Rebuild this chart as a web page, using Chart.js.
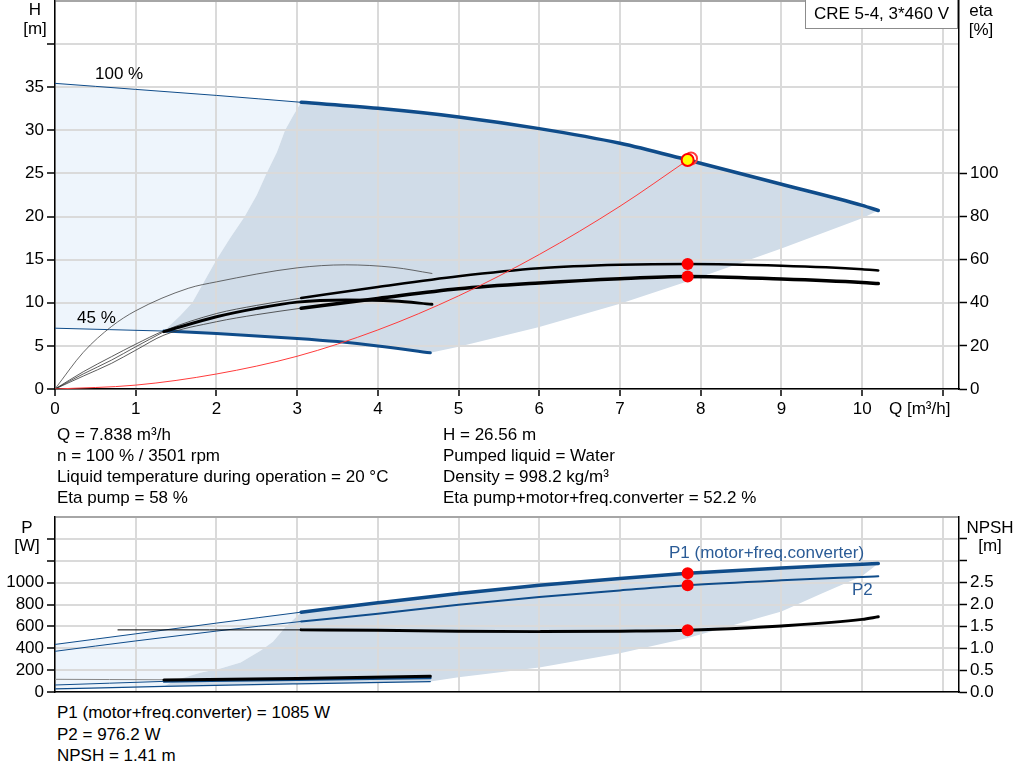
<!DOCTYPE html>
<html>
<head>
<meta charset="utf-8">
<script src="https://cdn.jsdelivr.net/npm/chart.js@4.4.1/dist/chart.umd.min.js"></script>
<style>
  html, body { margin: 0; padding: 0; background: #fff; }
  body { width: 1024px; height: 781px; position: relative; overflow: hidden;
         font-family: "Liberation Sans", Arial, sans-serif; font-size: 17px; color: #000; }
  canvas { position: absolute; left: 0; }
  #headChart { top: 0; }
  #powerChart { top: 500px; }
  .t { position: absolute; white-space: nowrap; line-height: 21px; }
  .c { text-align: center; }
  .blue { color: #2a5b96; }
  #model { position: absolute; left: 805px; top: -1px; width: 151px; height: 28px; border: 1px solid #8c8c8c;
           background: #fff; text-align: center; line-height: 28px; white-space: nowrap; }
</style>
</head>
<body>
<canvas id="headChart" width="1024" height="425"></canvas>
<canvas id="powerChart" width="1024" height="200"></canvas>

<div class="t c" style="left:20px;top:-1px;width:30px">H</div>
<div class="t c" style="left:18px;top:18px;width:34px">[m]</div>
<div class="t c" style="left:964px;top:0px;width:34px">eta</div>
<div class="t c" style="left:964px;top:19px;width:34px">[%]</div>
<div id="model">CRE 5-4, 3*460 V</div>
<div class="t" style="left:95px;top:63px">100 %</div>
<div class="t" style="left:77px;top:307px">45 %</div>
<div class="t" style="left:889px;top:398px">Q [m³/h]</div>

<div class="t" style="left:57px;top:424px">Q = 7.838 m³/h<br>n = 100 % / 3501 rpm<br>Liquid temperature during operation = 20 °C<br>Eta pump = 58 %</div>
<div class="t" style="left:443px;top:424px">H = 26.56 m<br>Pumped liquid = Water<br>Density = 998.2 kg/m³<br>Eta pump+motor+freq.converter = 52.2 %</div>

<div class="t c" style="left:12px;top:517px;width:30px">P</div>
<div class="t c" style="left:10px;top:535px;width:34px">[W]</div>
<div class="t c" style="left:965px;top:517px;width:50px">NPSH</div>
<div class="t c" style="left:973px;top:535px;width:34px">[m]</div>
<div class="t blue" style="left:669px;top:542px">P1 (motor+freq.converter)</div>
<div class="t blue" style="left:852px;top:579px">P2</div>

<div class="t" style="left:57px;top:702px;line-height:21.7px">P1 (motor+freq.converter) = 1085 W<br>P2 = 976.2 W<br>NPSH = 1.41 m</div>

<script>
// ---- axis ticks ----
const xTicks = [0, 1, 2, 3, 4, 5, 6, 7, 8, 9, 10, 11];
const headTicks = [0, 5, 10, 15, 20, 25, 30, 35, 40, 45];
const etaTicks = [0, 20, 40, 60, 80, 100];
const powerTicks = [0, 200, 400, 600, 800, 1000, 1200, 1400, 1600];
const npshTicks = [0, 0.5, 1, 1.5, 2, 2.5, 3, 3.5];

// ---- head curves (m) ----
const qH100Thin = [0, 1, 2, 3.05];
const h100Thin = [35.45, 34.75, 34.05, 33.25];
const qH100 = [3.05, 4, 5, 6, 7, 7.84, 9, 10, 10.2];
const h100 = [33.25, 32.55, 31.55, 30.2, 28.5, 26.56, 23.75, 21.3, 20.7];
const qH45Thin = [0, 1.35];
const h45Thin = [7.05, 6.72];
const qH45 = [1.35, 2, 3, 3.5, 4, 4.65];
const h45 = [6.72, 6.45, 5.87, 5.5, 5.0, 4.2];

// operating range edges (head chart)
const qRangeLeft = [1.35, 1.55, 1.7, 1.85, 2.0, 2.17, 2.35, 2.5, 2.62, 2.75, 2.85, 2.95, 3.05];
const hRangeLeft = [6.72, 8.5, 10, 12.5, 15, 17.5, 20, 22.5, 25, 27.5, 30, 31.7, 33.25];
const qRangeLow = [4.65, 5, 6, 7, 8, 9, 10, 10.2];
const hRangeLow = [4.2, 4.9, 7.2, 9.9, 13.0, 16.3, 19.8, 20.7];

// system curve (m)
const qSystem = [0, 1, 2, 3, 4, 5, 6, 7, 7.84];
const hSystem = [0, 0.45, 1.74, 3.8, 6.85, 10.8, 15.6, 21.2, 26.56];

// ---- efficiency curves (%) ----
const qEtaThin = [0, 0.35, 0.7, 1.0, 1.35, 2, 2.5, 3.05];
const etaPumpThin = [0, 8, 15, 20.8, 27, 35, 38.8, 42.2];
const etaTotalThin = [0, 6, 11.9, 18, 25, 31.2, 34.5, 37.5];
const qEta = [3.05, 4, 5, 6, 7, 7.84, 9, 10, 10.2];
const etaPump = [42.2, 47.3, 52.3, 56, 57.6, 58, 57.2, 55.6, 55.0];
const etaTotal = [37.5, 42, 46.5, 49.2, 51.2, 52.2, 51.0, 49.4, 48.9];
const qEtaPump45 = [0, 0.35, 0.7, 1.0, 1.65, 2, 3, 3.6, 4.2, 4.67];
const etaPump45 = [0, 17, 29, 36.3, 46.7, 49.7, 56.2, 57.6, 56.4, 53.6];
const qEtaTotal45Thin = [0, 0.35, 0.7, 1.0, 1.35];
const etaTotal45Thin = [0, 7, 13.4, 19.6, 26.6];
const qEtaTotal45 = [1.35, 2, 2.5, 3, 3.6, 4.2, 4.67];
const etaTotal45 = [26.6, 33.5, 37.4, 40.3, 41.3, 40.8, 39.3];

// ---- power curves (W) ----
const qP1Thin = [0, 1, 2, 3.05];
const p1Thin = [435, 532, 630, 730];
const qP1 = [3.05, 4, 5, 6, 7, 7.84, 9, 10, 10.2];
const p1 = [730, 815, 900, 975, 1038, 1085, 1134, 1168, 1175];
const qP2Thin = [0, 1, 2, 3.05];
const p2Thin = [372, 467, 557, 645];
const qP2 = [3.05, 4, 5, 6, 7, 7.84, 9, 10, 10.2];
const p2 = [645, 716, 798, 869, 929, 976.2, 1021, 1052, 1058];
const qP1s45Thin = [0, 1.35];
const p1s45Thin = [64, 97];
const qP1s45 = [1.35, 3, 4.65];
const p1s45 = [97, 112, 128];
const qP2s45 = [0, 1.35, 3, 4.65];
const p2s45 = [28, 52, 75, 95];

// operating range edges (power chart)
const qPRangeLeft = [1.35, 1.5, 1.8, 2.05, 2.3, 2.55, 2.7, 2.85, 3.05];
const pPRangeLeft = [52, 110, 175, 215, 270, 380, 460, 590, 730];
const qPRangeLow = [4.65, 5, 6, 7, 7.84, 9, 9.5, 10, 10.2];
const pPRangeLow = [95, 135, 223, 355, 493, 737, 900, 1060, 1175];

// ---- NPSH (m) ----
const qNpshThin = [0.78, 3.05];
const npshThin = [1.42, 1.42];
const qNpsh = [3.05, 4, 5, 6, 7, 7.84, 9, 10, 10.2];
const npsh = [1.42, 1.41, 1.39, 1.38, 1.39, 1.41, 1.51, 1.66, 1.72];
const qNpsh45Thin = [0, 1.35];
const npsh45Thin = [0.29, 0.28];
const qNpsh45 = [1.35, 3, 4.65];
const npsh45 = [0.275, 0.31, 0.36];

// ---- duty point ----
const qDuty = 7.838;
const hDuty = 26.56;
const qRequested = 7.88;
const hRequested = 26.73;
const etaPumpDuty = 58;
const etaTotalDuty = 52.2;
const p1Duty = 1085;
const p2Duty = 976.2;
const npshDuty = 1.41;

const FONT = '"Liberation Sans", Arial, sans-serif';
const BLUE = '#0f4c8a';
const GRID = '#dadada';
const LIGHT = '#eef5fc';
const DARK = '#d0dce8';

const pts = (qs, vs) => qs.map((q, i) => ({ x: q, y: vs[i] }));
const rev = (a) => a.slice().reverse();

function curve(data, color, width, axis, order) {
    return { data, borderColor: color, borderWidth: width, yAxisID: axis, pointRadius: 0,
        fill: false, cubicInterpolationMode: 'monotone', order, borderCapStyle: 'round' };
}
function area(data, color, axis) {
    return { data, borderWidth: 0, borderColor: 'rgba(0,0,0,0)', backgroundColor: color,
        fill: 'shape', pointRadius: 0, tension: 0, yAxisID: axis, order: 20 };
}
function dot(q, v, axis, color, stroke, order) {
    return { data: [{ x: q, y: v }], yAxisID: axis, showLine: false, pointRadius: 6,
        pointBackgroundColor: color, pointBorderColor: stroke || color, pointBorderWidth: stroke ? 2 : 0, order: order || 1 };
}
function fixTicks(values) {
    return (s) => { s.ticks = values.map((v) => ({ value: v })); };
}
const tickFont = { family: FONT, size: 17 };

function xScale(height, showLabels) {
    return {
        type: 'linear', min: 0, max: 11.2,
        afterBuildTicks: fixTicks(xTicks),
        afterFit: (s) => { s.height = height; s.paddingLeft = 0; s.paddingRight = 0; },
        ticks: { display: showLabels, font: tickFont, color: '#000', padding: 3, maxRotation: 0, autoSkip: false,
            callback: (v) => (v === 11 ? '' : String(v)) },
        grid: { color: GRID, lineWidth: 2, drawTicks: showLabels, tickColor: '#000', tickLength: 7, tickWidth: 1.5 },
        border: { color: '#000', width: 1.5 }
    };
}
function yScale(pos, max, values, width, label, topValue) {
    const left = pos === 'left';
    return {
        type: 'linear', position: pos, min: 0, max,
        afterBuildTicks: fixTicks(values),
        afterFit: (s) => { s.width = width; s.paddingTop = 0; s.paddingBottom = 0; },
        ticks: { font: tickFont, color: '#000', padding: 3, autoSkip: false, callback: label },
        grid: left ? {
            color: (c) => (c.tick && c.tick.value === topValue ? '#a6a6a6' : GRID), lineWidth: 2,
            tickColor: (c) => (c.tick && c.tick.value === topValue ? 'rgba(0,0,0,0)' : '#000'),
            tickLength: 8, tickWidth: 1.5
        } : { drawOnChartArea: false, tickColor: '#000', tickLength: 8, tickWidth: 1.5 },
        border: { color: '#000', width: 1.5 }
    };
}
const baseOptions = {
    responsive: false, animation: false, events: [],
    plugins: { legend: { display: false }, tooltip: { enabled: false }, filler: { drawTime: 'beforeDraw' } }
};

// ---------- head / efficiency chart ----------
const headDark = [
    ...pts(qRangeLeft, hRangeLeft),
    ...pts(qH100, h100).slice(1),
    ...rev(pts(qRangeLow, hRangeLow)).slice(1),
    ...rev(pts(qH45, h45)).slice(1)
];
const headLight = [
    ...pts(qH100Thin, h100Thin),
    ...rev(pts(qRangeLeft, hRangeLeft)).slice(1),
    ...rev(pts(qH45Thin, h45Thin)).slice(1)
];

new Chart(document.getElementById('headChart'), {
    type: 'line',
    data: {
        datasets: [
            dot(qDuty, hDuty, 'y', '#ffff00', '#ff0000'),
            dot(qRequested, hRequested, 'y', 'rgba(255,255,255,0)', '#ff3b3b', 2),
            dot(qDuty, etaPumpDuty, 'y2', '#ff0000'),
            dot(qDuty, etaTotalDuty, 'y2', '#ff0000'),
            curve(pts(qSystem, hSystem), '#ff3b3b', 1, 'y', 4),
            curve(pts(qEta, etaTotal), '#000', 3.5, 'y2', 6),
            curve(pts(qEta, etaPump), '#000', 2.5, 'y2', 6),
            curve(pts(qEtaTotal45, etaTotal45), '#000', 3, 'y2', 6),
            curve(pts(qEtaThin, etaPumpThin), '#333', 0.8, 'y2', 7),
            curve(pts(qEtaThin, etaTotalThin), '#333', 0.8, 'y2', 7),
            curve(pts(qEtaTotal45Thin, etaTotal45Thin), '#333', 0.8, 'y2', 7),
            curve(pts(qEtaPump45, etaPump45), '#444', 0.8, 'y2', 7),
            curve(pts(qH100, h100), BLUE, 3.5, 'y', 8),
            curve(pts(qH45, h45), BLUE, 3, 'y', 8),
            curve(pts(qH100Thin, h100Thin), BLUE, 1, 'y', 9),
            curve(pts(qH45Thin, h45Thin), BLUE, 1, 'y', 9),
            area(headDark, DARK, 'y'),
            area(headLight, LIGHT, 'y')
        ]
    },
    options: {
        ...baseOptions,
        layout: { autoPadding: false, padding: { top: 1, left: 0, right: 0, bottom: 0 } },
        scales: {
            x: xScale(36, true),
            y: yScale('left', 45, headTicks, 55, (v) => (v <= 35 ? String(v) : ''), 45),
            y2: yScale('right', 180, etaTicks, 65, (v) => String(v), null)
        }
    }
});

// ---------- power / NPSH chart ----------
const p2s45Low = pts(qP2s45, p2s45).filter((p) => p.x >= 1.35);
const p2s45High = pts(qP2s45, p2s45).filter((p) => p.x <= 1.35);
const powerDark = [
    ...pts(qPRangeLeft, pPRangeLeft),
    ...pts(qP1, p1).slice(1),
    ...rev(pts(qPRangeLow, pPRangeLow)).slice(1),
    ...rev(p2s45Low).slice(1)
];
const powerLight = [
    ...pts(qP1Thin, p1Thin),
    ...rev(pts(qPRangeLeft, pPRangeLeft)).slice(1),
    ...rev(p2s45High).slice(1)
];

new Chart(document.getElementById('powerChart'), {
    type: 'line',
    data: {
        datasets: [
            dot(qDuty, p1Duty, 'y', '#ff0000'),
            dot(qDuty, p2Duty, 'y', '#ff0000'),
            dot(qDuty, npshDuty, 'y2', '#ff0000'),
            curve(pts(qNpsh, npsh), '#000', 3, 'y2', 6),
            curve(pts(qNpsh45, npsh45), '#000', 3, 'y2', 6),
            curve(pts(qNpshThin, npshThin), '#000', 1, 'y2', 7),
            curve(pts(qNpsh45Thin, npsh45Thin), '#888', 1, 'y2', 7),
            curve(pts(qP1, p1), BLUE, 3.5, 'y', 8),
            curve(pts(qP2, p2), BLUE, 2, 'y', 8),
            curve(pts(qP1s45, p1s45), BLUE, 2.5, 'y', 8),
            curve(pts(qP1Thin, p1Thin), BLUE, 1, 'y', 9),
            curve(pts(qP2Thin, p2Thin), BLUE, 1, 'y', 9),
            curve(pts(qP1s45Thin, p1s45Thin), BLUE, 1, 'y', 9),
            curve(pts(qP2s45, p2s45), BLUE, 1.2, 'y', 9),
            area(powerDark, DARK, 'y'),
            area(powerLight, LIGHT, 'y')
        ]
    },
    options: {
        ...baseOptions,
        layout: { autoPadding: false, padding: { top: 17, left: 0, right: 0, bottom: 0 } },
        scales: {
            x: xScale(8, false),
            y: yScale('left', 1600, powerTicks, 55, (v) => (v <= 1000 ? String(v) : ''), 1600),
            y2: yScale('right', 4, npshTicks, 65, (v) => (v <= 2.5 ? v.toFixed(1) : ''), null)
        }
    }
});
</script>
</body>
</html>
